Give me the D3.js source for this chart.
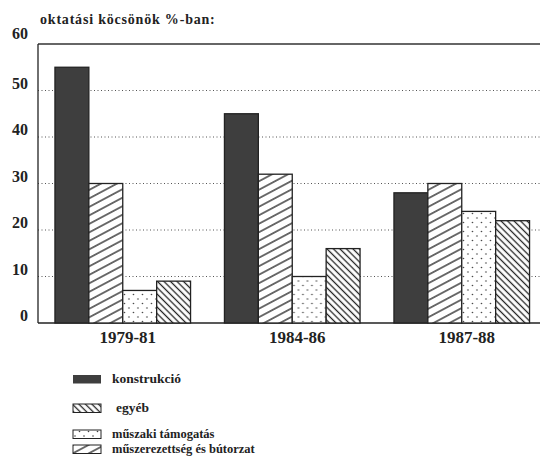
<!DOCTYPE html>
<meta charset="utf-8">
<style>
body { margin: 0; background: #fff; }
text { font-family: "Liberation Serif", "DejaVu Serif", serif; fill: #222; }
.grid line { stroke: #555; stroke-width: 1; stroke-dasharray: 1 2.5; }
</style>
<body>
<svg width="540" height="466"></svg>
<script src="https://cdn.jsdelivr.net/npm/d3@7"></script>
<script>
// chart data
var periods = ["1979-81", "1984-86", "1987-88"];
var seriesNames = ["konstrukció", "műszerezettség és bútorzat", "műszaki támogatás", "egyéb"];
var konstrukcio = [55, 45, 28];
var muszerezettseg = [30, 32, 30];
var muszakiTamogatas = [7, 10, 24];
var egyeb = [9, 16, 22];
var yTicks = [0, 10, 20, 30, 40, 50, 60];
var legendOrder = ["konstrukció", "egyéb", "műszaki támogatás", "műszerezettség és bútorzat"];

var seriesValues = [konstrukcio, muszerezettseg, muszakiTamogatas, egyeb];
var fills = {
  "konstrukció": "#3e3e3e",
  "műszerezettség és bútorzat": "url(#hatchFwd)",
  "műszaki támogatás": "url(#dots)",
  "egyéb": "url(#hatchBack)"
};

var svg = d3.select("svg");
var plotLeft = 38, plotRight = 546.5, plotTop = 44, plotBottom = 323;

var defs = svg.append("defs");
var p1 = defs.append("pattern").attr("id", "hatchFwd")
    .attr("patternUnits", "userSpaceOnUse").attr("width", 8).attr("height", 7.5)
    .attr("patternTransform", "rotate(-28)");
p1.append("rect").attr("width", 8).attr("height", 7.5).attr("fill", "#fff");
p1.append("line").attr("x1", 0).attr("x2", 8).attr("y1", 3.75).attr("y2", 3.75)
    .attr("stroke", "#222").attr("stroke-width", 1.3);

var p2 = defs.append("pattern").attr("id", "hatchBack")
    .attr("patternUnits", "userSpaceOnUse").attr("width", 8).attr("height", 4.6)
    .attr("patternTransform", "rotate(45)");
p2.append("rect").attr("width", 8).attr("height", 4.6).attr("fill", "#fff");
p2.append("line").attr("x1", 0).attr("x2", 8).attr("y1", 2.3).attr("y2", 2.3)
    .attr("stroke", "#222").attr("stroke-width", 1.3);

var p3 = defs.append("pattern").attr("id", "dots")
    .attr("patternUnits", "userSpaceOnUse").attr("width", 9).attr("height", 9);
p3.append("rect").attr("width", 9).attr("height", 9).attr("fill", "#fff");
p3.append("circle").attr("cx", 2).attr("cy", 2).attr("r", 0.8).attr("fill", "#444");
p3.append("circle").attr("cx", 6.5).attr("cy", 6.5).attr("r", 0.8).attr("fill", "#444");

var x0 = d3.scaleBand().domain(periods).range([plotLeft, plotRight])
    .paddingInner(0.2).paddingOuter(0.1);
var x1 = d3.scaleBand().domain(seriesNames).range([0, x0.bandwidth()]);
var y = d3.scaleLinear().domain([0, 60]).range([plotBottom, plotTop]);

// dotted gridlines
svg.append("g").attr("class", "grid")
  .selectAll("line").data(yTicks.filter(function(d) { return d > 0 && d < 60; }))
  .enter().append("line")
    .attr("x1", plotLeft).attr("x2", 540)
    .attr("y1", function(d) { return y(d); }).attr("y2", function(d) { return y(d); });

// frame
svg.append("line").attr("x1", plotLeft).attr("x2", 540).attr("y1", y(60)).attr("y2", y(60))
    .attr("stroke", "#333").attr("stroke-width", 1.3);
svg.append("line").attr("x1", plotLeft).attr("x2", 540).attr("y1", y(0)).attr("y2", y(0))
    .attr("stroke", "#222").attr("stroke-width", 1.5);
svg.append("line").attr("x1", plotLeft).attr("x2", plotLeft).attr("y1", y(60)).attr("y2", y(0))
    .attr("stroke", "#222").attr("stroke-width", 1.3);

// tick labels
svg.append("g").selectAll("text").data(yTicks).enter().append("text")
    .attr("x", 28).attr("y", function(d) { return y(d) - (d == 60 ? 5 : 2); })
    .attr("text-anchor", "end")
    .attr("font-size", 16).attr("font-weight", "bold")
    .text(function(d) { return d; });

// bars
var groups = svg.append("g").selectAll("g").data(periods).enter().append("g")
    .attr("transform", function(d) { return "translate(" + x0(d) + ",0)"; });

groups.selectAll("rect")
  .data(function(d, i) {
    return seriesNames.map(function(s, k) { return {name: s, value: seriesValues[k][i]}; });
  })
  .enter().append("rect")
    .attr("x", function(d) { return x1(d.name); })
    .attr("y", function(d) { return y(d.value); })
    .attr("width", x1.bandwidth())
    .attr("height", function(d) { return y(0) - y(d.value); })
    .attr("fill", function(d) { return fills[d.name]; })
    .attr("stroke", "#222").attr("stroke-width", 1.3);

// x labels
svg.append("g").selectAll("text").data(periods).enter().append("text")
    .attr("x", function(d) { return x0(d) + x0.bandwidth() / 2 + 5; })
    .attr("y", 343)
    .attr("text-anchor", "middle")
    .attr("font-size", 17).attr("font-weight", "bold")
    .text(function(d) { return d; });

// title
svg.append("text").attr("x", 40).attr("y", 24)
    .attr("font-size", 14).attr("font-weight", "bold")
    .attr("letter-spacing", 0.8)
    .text("oktatási köcsönök %-ban:");

// legend
var legendY = [379, 408, 434, 449];
var leg = svg.append("g").selectAll("g").data(legendOrder).enter().append("g")
    .attr("transform", function(d, i) { return "translate(73," + legendY[i] + ")"; });
leg.append("rect")
    .attr("x", 0).attr("y", -4).attr("width", 28).attr("height", 8.5)
    .attr("fill", function(d) { return fills[d]; })
    .attr("stroke", function(d) { return d == "konstrukció" ? "none" : "#222"; })
    .attr("stroke-width", 1);
leg.append("text")
    .attr("x", function(d) { return d == "egyéb" ? 43 : 39; }).attr("y", 4)
    .attr("font-size", function(d, i) { return i >= 2 ? 12.5 : 13.5; })
    .attr("font-weight", "bold")
    .text(function(d) { return d; });
</script>
</body>
</html>
